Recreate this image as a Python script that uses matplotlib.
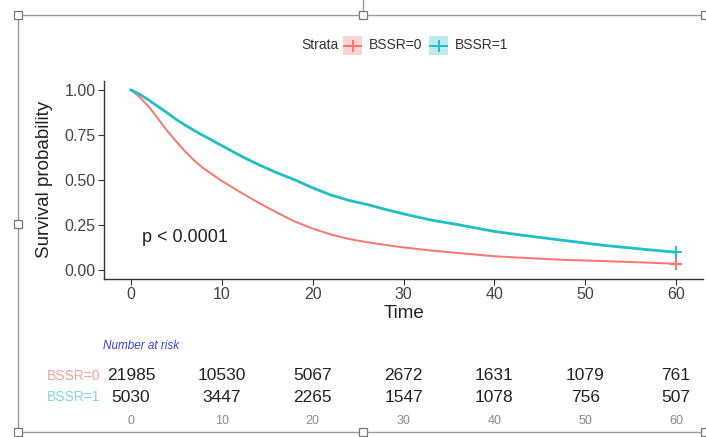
import matplotlib.pyplot as plt
import matplotlib.transforms as mtransforms
from matplotlib.lines import Line2D
from matplotlib.patches import Rectangle

# Kaplan-Meier curves
time = [0, 1, 2, 3, 4, 5, 6, 7, 8, 10, 12, 14, 16, 18, 20, 22, 24, 26, 28, 30,
        33, 36, 40, 44, 48, 52, 56, 60]
surv_bssr0 = [1.0, 0.958, 0.905, 0.838, 0.772, 0.712, 0.655, 0.605, 0.563, 0.493, 0.432,
              0.373, 0.319, 0.268, 0.228, 0.195, 0.17, 0.152, 0.137, 0.123,
              0.106, 0.092, 0.074, 0.063, 0.053, 0.047, 0.040, 0.032]
surv_bssr1 = [1.0, 0.975, 0.942, 0.907, 0.872, 0.835, 0.803, 0.773, 0.745, 0.69, 0.635,
              0.585, 0.54, 0.50, 0.455, 0.415, 0.385, 0.362, 0.335, 0.31,
              0.276, 0.25, 0.212, 0.185, 0.16, 0.135, 0.115, 0.096]

risk_times = [0, 10, 20, 30, 40, 50, 60]
risk_bssr0 = [21985, 10530, 5067, 2672, 1631, 1079, 761]
risk_bssr1 = [5030, 3447, 2265, 1547, 1078, 756, 507]
strata = ["BSSR=0", "BSSR=1"]

RED = "#F8766D"
TEAL = "#1FBFC3"

plt.rcParams['font.family'] = ['Liberation Sans', 'DejaVu Sans']

W, H = 706, 437
fig = plt.figure(figsize=(W / 100, H / 100), dpi=100)


def fx(px):
    return px / W


def fy(py):
    return 1 - py / H


ax = fig.add_axes([fx(103.75), fy(278.5), fx(703.25) - fx(103.75), fy(81) - fy(278.5)])
ax.plot(time, surv_bssr0, color=RED, lw=1.4)
ax.plot(time, surv_bssr1, color=TEAL, lw=2.0)
ax.plot(time[-1], surv_bssr0[-1], marker="+", color=RED, ms=8, mew=1.5)
ax.plot(time[-1], surv_bssr1[-1], marker="+", color=TEAL, ms=8, mew=1.5)
ax.set_xlim(-3, 63)
ax.set_ylim(-0.05, 1.05)
ax.set_xticks(risk_times)
ax.set_yticks([0, 0.25, 0.5, 0.75, 1.0])
ax.set_yticklabels(["0.00", "0.25", "0.50", "0.75", "1.00"])
for s in ["top", "right"]:
    ax.spines[s].set_visible(False)
for s in ["left", "bottom"]:
    ax.spines[s].set_color("#333333")
    ax.spines[s].set_linewidth(1.0)
ax.tick_params(colors="#333333", labelcolor="#444444", labelsize=11.5, length=4, pad=2)
ax.set_xlabel("Time", fontsize=13.5, color="#222222", labelpad=2)
ax.set_ylabel("Survival probability", fontsize=13.5, color="#222222", labelpad=8)
ax.text(1.2, 0.18, "p < 0.0001", fontsize=13, color="#222222", va="center")

# legend
fig.text(fx(301), fy(45), "Strata", fontsize=10, color="#333333", va="center")
for i, (lab, col) in enumerate(zip(strata, [RED, TEAL])):
    x0 = 343 + i * 86
    fig.add_artist(Rectangle((fx(x0), fy(55)), fx(19), fy(36) - fy(55),
                             transform=fig.transFigure, facecolor=col, alpha=0.3,
                             edgecolor="none"))
    fig.add_artist(Line2D([fx(x0 + 1), fx(x0 + 18)], [fy(45.5), fy(45.5)],
                          transform=fig.transFigure, color=col, lw=1.4))
    fig.add_artist(Line2D([fx(x0 + 9.5)], [fy(45.5)], transform=fig.transFigure,
                          marker="+", color=col, ms=8, mew=1.4))
    fig.text(fx(x0 + 26), fy(45), lab, fontsize=10, color="#333333", va="center")

# number at risk table
bt = mtransforms.blended_transform_factory(ax.transData, fig.transFigure)
fig.text(fx(103), fy(346), "Number at risk", fontsize=8.5, style="italic",
         color="#3F3FE0", va="center")
fig.text(fx(100), fy(375.5), strata[0], fontsize=10, color="#F4A39C", va="center",
         ha="right")
fig.text(fx(100), fy(397), strata[1], fontsize=10, color="#86D5D8", va="center",
         ha="right")
for t, n0, n1 in zip(risk_times, risk_bssr0, risk_bssr1):
    ax.text(t, fy(375.5), str(n0), transform=bt, fontsize=12.5, color="#222222",
            ha="center", va="center")
    ax.text(t, fy(397), str(n1), transform=bt, fontsize=12.5, color="#222222",
            ha="center", va="center")
    ax.text(t, fy(421.5), str(t), transform=bt, fontsize=9, color="#8C8C8C",
            ha="center", va="center")

# word-processor selection frame
fc = "#9A9A9A"
fig.add_artist(Line2D([fx(18), fx(706)], [fy(15), fy(15)], transform=fig.transFigure, color=fc, lw=1))
fig.add_artist(Line2D([fx(18), fx(706)], [fy(432), fy(432)], transform=fig.transFigure, color=fc, lw=1))
fig.add_artist(Line2D([fx(18), fx(18)], [fy(15), fy(432)], transform=fig.transFigure, color=fc, lw=1))
fig.add_artist(Line2D([fx(363), fx(363)], [fy(0), fy(15)], transform=fig.transFigure, color=fc, lw=1))
for hx, hy in [(18, 15), (363, 15), (705, 15), (18, 224), (18, 432), (363, 432), (705, 432)]:
    fig.add_artist(Rectangle((fx(hx - 4), fy(hy + 4)), fx(8), fy(hy - 4) - fy(hy + 4),
                             transform=fig.transFigure, facecolor="white",
                             edgecolor="#777777", lw=0.9, zorder=5))

fig.savefig("out.png", dpi=100)
